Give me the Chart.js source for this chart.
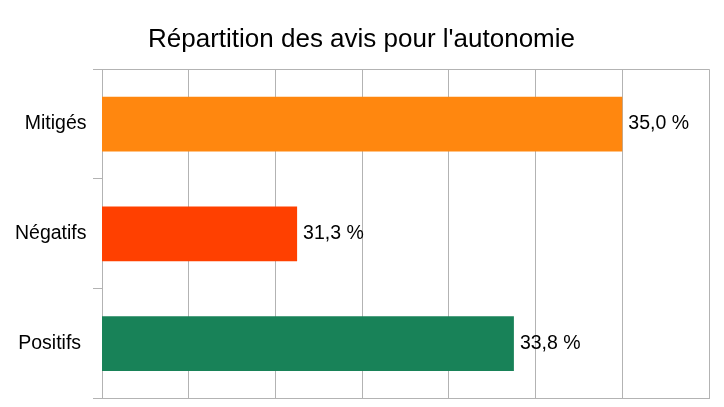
<!DOCTYPE html>
<html>
<head>
<meta charset="utf-8">
<script src="https://cdn.jsdelivr.net/npm/chart.js@4/dist/chart.umd.min.js"></script>
<style>
  body { margin: 0; background: #fff; }
  #wrap { width: 724px; height: 407px; }
</style>
</head>
<body>
<div id="wrap"><canvas id="myChart"></canvas></div>
<script>
'use strict';

// données
var categories = ['Mitigés', 'Négatifs', 'Positifs '];
var values = [35.0, 31.25, 33.75];
var barColors = ['#ff870f', '#ff4000', '#188258'];
var axisMin = 29;
var axisMax = 36;

var gridGray = '#b3b3b3';
var fontFamily = '"Liberation Sans", Arial, sans-serif';

// étiquettes de valeur à droite des barres
var valueLabels = {
  id: 'valueLabels',
  afterDatasetsDraw: function (chart) {
    var ctx = chart.ctx;
    var meta = chart.getDatasetMeta(0);
    ctx.save();
    ctx.font = '19.5px ' + fontFamily;
    ctx.fillStyle = '#000';
    ctx.textAlign = 'left';
    ctx.textBaseline = 'middle';
    meta.data.forEach(function (bar, i) {
      var txt = values[i].toFixed(1).replace('.', ',') + ' %';
      ctx.fillText(txt, bar.x + 6, bar.y);
    });
    ctx.restore();
  }
};

var ctx = document.getElementById('myChart').getContext('2d');
var chart = new Chart(ctx, {
  type: 'bar',
  data: {
    labels: categories,
    datasets: [{
      data: values,
      backgroundColor: barColors,
      borderWidth: 0,
      barPercentage: 0.5,
      categoryPercentage: 1
    }]
  },
  options: {
    indexAxis: 'y',
    responsive: true,
    maintainAspectRatio: false,
    animation: false,
    devicePixelRatio: 1,
    layout: {
      padding: { top: 24, left: 14, right: 15, bottom: 0 }
    },
    plugins: {
      legend: { display: false },
      tooltip: { enabled: false },
      title: {
        display: true,
        text: "Répartition des avis pour l'autonomie",
        color: '#000',
        font: { family: fontFamily, size: 26, weight: 'normal', lineHeight: 1.2 },
        padding: { top: 0, bottom: 14 }
      }
    },
    scales: {
      x: {
        min: axisMin,
        max: axisMax,
        ticks: { display: false, stepSize: 1 },
        grid: { color: gridGray, drawTicks: false },
        border: { color: gridGray },
        afterFit: function (scale) { scale.height = 8.5; }
      },
      y: {
        afterFit: function (scale) {
          scale.width = 88;
          scale.paddingTop = 0;
          scale.paddingBottom = 0;
        },
        ticks: {
          color: '#000',
          padding: 6.5,
          font: { family: fontFamily, size: 19.5 }
        },
        grid: {
          offset: true,
          tickLength: 9,
          tickColor: gridGray,
          color: function (c) {
            // seulement le bord haut du cadre
            return (c.type === 'scale' || c.index === 0) ? gridGray : 'rgba(0,0,0,0)';
          }
        },
        border: { color: gridGray }
      }
    }
  },
  plugins: [valueLabels]
});
</script>
</body>
</html>
